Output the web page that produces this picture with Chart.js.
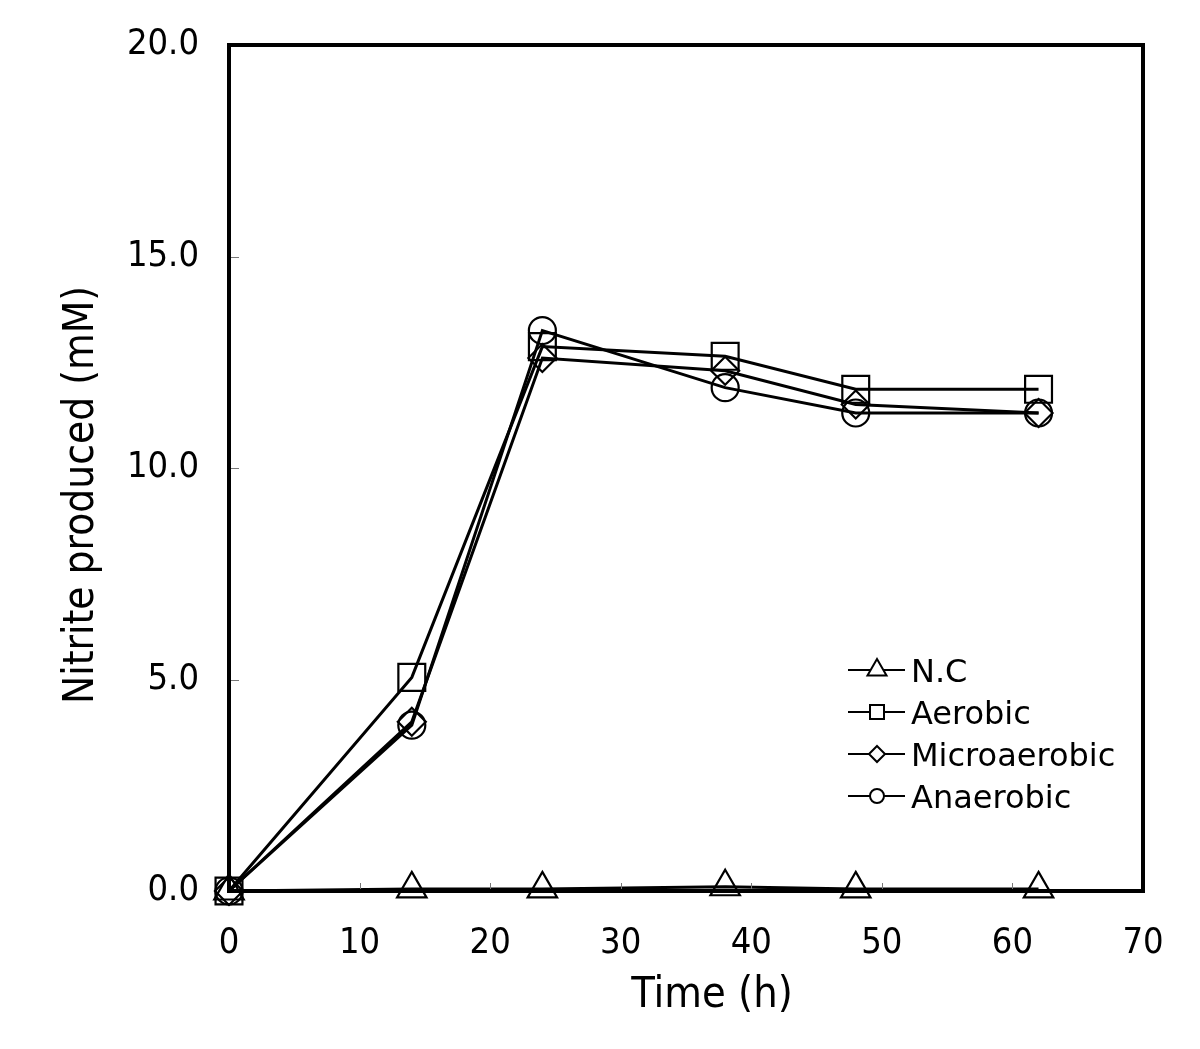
<!DOCTYPE html>
<html>
<head>
<meta charset="utf-8">
<script src="https://cdn.jsdelivr.net/npm/chart.js@4"></script>
<style>
  html, body { margin: 0; padding: 0; background: #fff; }
  canvas { display: block; }
</style>
</head>
<body>
<canvas id="grafico" width="1200" height="1049"></canvas>
<script>
// valores
const tempos = [0, 14, 24, 38, 48, 62];
const nc = [0, 0.05, 0.05, 0.1, 0.05, 0.05];
const aerobico = [0, 5.05, 12.87, 12.64, 11.86, 11.86];
const microaerobico = [0, 4.0, 12.6, 12.3, 11.5, 11.3];
const anaerobico = [0, 3.92, 13.25, 11.9, 11.3, 11.3];
const nomesSeries = ["N.C", "Aerobic", "Microaerobic", "Anaerobic"];
const xTicks = [0, 10, 20, 30, 40, 50, 60, 70];
const yTicks = [0, 5, 10, 15, 20];
const tituloX = "Time (h)";
const tituloY = "Nitrite produced (mM)";

const fonteEixo = "'DejaVu Sans Condensed', 'DejaVu Sans', sans-serif";
const fonteLegenda = "'DejaVu Sans', Verdana, sans-serif";

function pares(ys) {
  return tempos.map((t, i) => ({ x: t, y: ys[i] }));
}

function serie(label, ys, estilo, raio) {
  return {
    label: label,
    data: pares(ys),
    borderColor: "#000",
    borderWidth: 3,
    backgroundColor: "rgba(0,0,0,0)",
    pointStyle: estilo,
    pointRadius: raio,
    pointHoverRadius: raio,
    pointBorderColor: "#000",
    pointBackgroundColor: "rgba(0,0,0,0)",
    pointBorderWidth: 2.2,
    tension: 0,
    clip: false
  };
}

// desenha marcador pequeno da legenda
function marcador(ctx, estilo, x, y, r) {
  ctx.beginPath();
  if (estilo === "triangle") {
    ctx.moveTo(x, y - r);
    ctx.lineTo(x + r * 0.866, y + r / 2);
    ctx.lineTo(x - r * 0.866, y + r / 2);
    ctx.closePath();
  } else if (estilo === "rect") {
    ctx.rect(x - r, y - r, 2 * r, 2 * r);
  } else if (estilo === "rectRot") {
    ctx.moveTo(x, y - r);
    ctx.lineTo(x + r, y);
    ctx.lineTo(x, y + r);
    ctx.lineTo(x - r, y);
    ctx.closePath();
  } else {
    ctx.arc(x, y, r, 0, Math.PI * 2);
  }
  ctx.fillStyle = "#fff";
  ctx.fill();
  ctx.stroke();
}

const molduraPlugin = {
  id: "moldura",
  afterDraw(chart) {
    const { ctx, chartArea: a, scales } = chart;
    ctx.save();
    // marcas internas
    ctx.strokeStyle = "#777";
    ctx.lineWidth = 1;
    xTicks.forEach(v => {
      if (v === 0 || v === 70) return;
      const px = Math.round(scales.x.getPixelForValue(v)) + 0.5;
      ctx.beginPath();
      ctx.moveTo(px, a.bottom);
      ctx.lineTo(px, a.bottom - 8);
      ctx.stroke();
    });
    yTicks.forEach(v => {
      if (v === 0 || v === 20) return;
      const py = Math.round(scales.y.getPixelForValue(v)) + 0.5;
      ctx.beginPath();
      ctx.moveTo(a.left, py);
      ctx.lineTo(a.left + 10, py);
      ctx.stroke();
    });
    // borda
    ctx.strokeStyle = "#000";
    ctx.lineWidth = 4;
    ctx.strokeRect(a.left, a.top, a.right - a.left, a.bottom - a.top);

    // títulos dos eixos
    ctx.fillStyle = "#000";
    ctx.textAlign = "center";
    ctx.textBaseline = "middle";
    ctx.font = "43px " + fonteEixo;
    ctx.fillText(tituloX, 712, 996);
    ctx.font = "42px " + fonteEixo;
    ctx.save();
    ctx.translate(82, 495);
    ctx.rotate(-Math.PI / 2);
    ctx.fillText(tituloY, 0, 0);
    ctx.restore();

    // legenda
    const estilos = ["triangle", "rect", "rectRot", "circle"];
    const raios = [11, 7, 8, 7];
    ctx.font = "32px " + fonteLegenda;
    ctx.textBaseline = "middle";
    ctx.textAlign = "left";
    chart.data.datasets.forEach((ds, i) => {
      const y = 670 + i * 42;
      ctx.strokeStyle = "#000";
      ctx.lineWidth = 2;
      ctx.beginPath();
      ctx.moveTo(848, y);
      ctx.lineTo(905, y);
      ctx.stroke();
      marcador(ctx, estilos[i], 877, y, raios[i]);
      ctx.fillStyle = "#000";
      ctx.fillText(ds.label, 911, y + 4);
    });
    ctx.restore();
  }
};

new Chart(document.getElementById("grafico").getContext("2d"), {
  type: "line",
  data: {
    datasets: [
      serie(nomesSeries[0], nc, "triangle", 17),
      serie(nomesSeries[1], aerobico, "rect", 19),
      serie(nomesSeries[2], microaerobico, "rectRot", 14),
      serie(nomesSeries[3], anaerobico, "circle", 13.5)
    ]
  },
  options: {
    responsive: false,
    animation: false,
    events: [],
    layout: { padding: { top: 45, left: 0, right: 57, bottom: 0 } },
    plugins: { legend: { display: false }, tooltip: { enabled: false } },
    scales: {
      x: {
        type: "linear",
        min: 0,
        max: 70,
        afterBuildTicks: s => { s.ticks = xTicks.map(v => ({ value: v })); },
        afterFit: s => { s.height = 158; },
        grid: { drawOnChartArea: false, drawTicks: true, tickLength: 31, tickColor: "rgba(0,0,0,0)" },
        border: { display: false },
        ticks: {
          color: "#000",
          padding: 0,
          maxRotation: 0,
          font: { family: fonteEixo, size: 36 },
          callback: v => String(v)
        },
        title: { display: false }
      },
      y: {
        min: 0,
        max: 20,
        afterBuildTicks: s => { s.ticks = yTicks.map(v => ({ value: v })); },
        afterFit: s => { s.width = 229; },
        grid: { drawOnChartArea: false, drawTicks: true, tickLength: 30, tickColor: "rgba(0,0,0,0)" },
        border: { display: false },
        ticks: {
          color: "#000",
          padding: 0,
          font: { family: fonteEixo, size: 36 },
          callback: v => Number(v).toFixed(1)
        },
        title: { display: false }
      }
    }
  },
  plugins: [molduraPlugin]
});
</script>
</body>
</html>
